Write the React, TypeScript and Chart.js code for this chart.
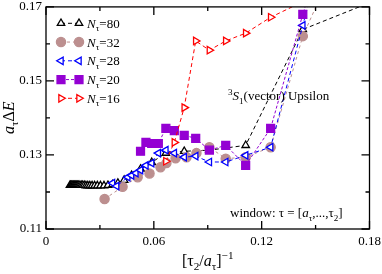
import React, { useEffect, useRef } from "react";
import { Chart, registerables } from "chart.js";
Chart.register(...registerables);

const FONT = "'Liberation Serif', 'Times New Roman', serif";

// x = [tau2/a_tau]^-1, y = a_tau * Delta E
const xN80 = [0.01333, 0.0137, 0.01408, 0.01449, 0.01493, 0.01538, 0.01587, 0.01639, 0.01695, 0.01754, 0.01818, 0.01887, 0.01961, 0.02041, 0.02128, 0.02222, 0.02326, 0.02439, 0.02564, 0.02703, 0.02857, 0.0303, 0.03226, 0.03448, 0.03704, 0.04, 0.04348, 0.04762, 0.05263, 0.05882, 0.06667, 0.07692, 0.09091, 0.11111, 0.14286, 0.2];
const yN80 = [0.1218, 0.1218, 0.1218, 0.1218, 0.1218, 0.1218, 0.1218, 0.1218, 0.1218, 0.1218, 0.1218, 0.1218, 0.1218, 0.1218, 0.1218, 0.1217, 0.1217, 0.1217, 0.1217, 0.1217, 0.1217, 0.1217, 0.1217, 0.1218, 0.122, 0.1224, 0.1232, 0.1245, 0.1262, 0.128, 0.1305, 0.131, 0.1313, 0.1326, 0.1639, 0.175];

const xN32 = [0.0326, 0.0426, 0.051, 0.0576, 0.0637, 0.067, 0.0721, 0.0782, 0.0837, 0.0909, 0.1, 0.1111, 0.125, 0.1429, 0.1667];
const yN32 = [0.1181, 0.1214, 0.124, 0.125, 0.1267, 0.1278, 0.1291, 0.1294, 0.1305, 0.1321, 0.129, 0.1294, 0.1321, 0.1621, 0.188];

const xN28 = [0.037, 0.0393, 0.0455, 0.0476, 0.05, 0.0526, 0.0556, 0.0588, 0.0625, 0.0667, 0.0714, 0.0769, 0.0833, 0.0909, 0.1, 0.1111, 0.125, 0.1429, 0.1667];
const yN28 = [0.1224, 0.1216, 0.124, 0.1245, 0.1251, 0.1259, 0.1272, 0.1278, 0.1305, 0.1313, 0.1305, 0.1294, 0.1297, 0.1281, 0.1281, 0.1299, 0.1321, 0.165, 0.21];

const xN20 = [0.0526, 0.0556, 0.0588, 0.0625, 0.0667, 0.0714, 0.0769, 0.0833, 0.0909, 0.1, 0.1111, 0.125, 0.1429, 0.1667];
const yN20 = [0.131, 0.1334, 0.1331, 0.1331, 0.1372, 0.1366, 0.1353, 0.1345, 0.1313, 0.1326, 0.1272, 0.1372, 0.168, 0.205];

const xN16 = [0.0667, 0.0714, 0.0769, 0.0833, 0.0909, 0.1, 0.1111, 0.125, 0.1429];
const yN16 = [0.1283, 0.1334, 0.1428, 0.1608, 0.1583, 0.1608, 0.1629, 0.1672, 0.1714];

const xMajor = [0, 0.06, 0.12, 0.18];
const xMinor = [0.03, 0.09, 0.15];
const yMajor = [0.11, 0.13, 0.15, 0.17];
const yMinor = [0.12, 0.14, 0.16];

const legendLabels = ["80", "32", "28", "20", "16"];

type Part = { t: string; it?: boolean; sub?: boolean; sup?: boolean };

function drawRich(ctx: CanvasRenderingContext2D, parts: Part[], x: number, y: number, size: number) {
  let cx = x;
  for (const p of parts) {
    const s = p.sub || p.sup ? size * 0.7 : size;
    ctx.font = `${p.it ? "italic " : ""}${s}px ${FONT}`;
    const dy = p.sub ? size * 0.28 : p.sup ? -size * 0.42 : 0;
    ctx.fillText(p.t, cx, y + dy);
    cx += ctx.measureText(p.t).width;
  }
  return cx - x;
}

function drawMarker(ctx: CanvasRenderingContext2D, style: string, x: number, y: number, r: number, rotDeg: number, stroke: string, fill: string, lw: number) {
  ctx.save();
  ctx.beginPath();
  ctx.setLineDash([]);
  if (style === "circle") {
    ctx.arc(x, y, r, 0, Math.PI * 2);
  } else if (style === "rect") {
    const s = r * Math.SQRT1_2;
    ctx.rect(x - s, y - s, 2 * s, 2 * s);
  } else {
    let rad = (rotDeg * Math.PI) / 180;
    ctx.moveTo(x + Math.sin(rad) * r, y - Math.cos(rad) * r);
    rad += (2 * Math.PI) / 3;
    ctx.lineTo(x + Math.sin(rad) * r, y - Math.cos(rad) * r);
    rad += (2 * Math.PI) / 3;
    ctx.lineTo(x + Math.sin(rad) * r, y - Math.cos(rad) * r);
    ctx.closePath();
  }
  ctx.fillStyle = fill;
  ctx.fill();
  ctx.lineWidth = lw;
  ctx.strokeStyle = stroke;
  ctx.stroke();
  ctx.restore();
}

const series = [
  { xs: xN80, ys: yN80, color: "#000000", fill: "#ffffff", style: "triangle", rot: 0, r: 4.3, dash: [4, 3], order: 5 },
  { xs: xN32, ys: yN32, color: "#bc8f8f", fill: "#bc8f8f", style: "circle", rot: 0, r: 4.6, dash: [3, 3], order: 4 },
  { xs: xN28, ys: yN28, color: "#0000ff", fill: "#ffffff", style: "triangle", rot: -90, r: 4.3, dash: [4, 3], order: 3 },
  { xs: xN20, ys: yN20, color: "#9400d3", fill: "#9400d3", style: "rect", rot: 0, r: 5.6, dash: [3, 2], order: 2 },
  { xs: xN16, ys: yN16, color: "#ff0000", fill: "#ffffff", style: "triangle", rot: 90, r: 4.3, dash: [4, 3], order: 1 },
];

const decorPlugin = {
  id: "decor",
  afterDraw(chart: any) {
    const ctx: CanvasRenderingContext2D = chart.ctx;
    const { left, right, top, bottom } = chart.chartArea;
    const xs = chart.scales.x;
    const ys = chart.scales.y;
    ctx.save();
    ctx.strokeStyle = "#000";
    ctx.lineWidth = 1.3;
    ctx.setLineDash([]);
    ctx.strokeRect(left, top, right - left, bottom - top);
    const tick = (vals: number[], len: number) => {
      for (const v of vals) {
        const px = xs.getPixelForValue(v);
        ctx.beginPath();
        ctx.moveTo(px, bottom);
        ctx.lineTo(px, bottom - len);
        ctx.moveTo(px, top);
        ctx.lineTo(px, top + len);
        ctx.stroke();
      }
    };
    const ytick = (vals: number[], len: number) => {
      for (const v of vals) {
        const py = ys.getPixelForValue(v);
        ctx.beginPath();
        ctx.moveTo(left, py);
        ctx.lineTo(left + len, py);
        ctx.moveTo(right, py);
        ctx.lineTo(right - len, py);
        ctx.stroke();
      }
    };
    tick(xMajor, 8);
    tick(xMinor, 4);
    ytick(yMajor, 8);
    ytick(yMinor, 4);

    // legend
    const rowY0 = 23.3;
    const rowStep = 18.75;
    series.forEach((s, i) => {
      const y = rowY0 + i * rowStep;
      ctx.save();
      ctx.strokeStyle = s.color;
      ctx.lineWidth = 1;
      ctx.setLineDash(s.dash);
      ctx.beginPath();
      ctx.moveTo(61, y);
      ctx.lineTo(79, y);
      ctx.stroke();
      ctx.restore();
      drawMarker(ctx, s.style, 61, y, s.r, s.rot, s.color, s.fill, 1.3);
      drawMarker(ctx, s.style, 79, y, s.r, s.rot, s.color, s.fill, 1.3);
      ctx.fillStyle = "#000";
      ctx.textBaseline = "alphabetic";
      drawRich(ctx, [{ t: "N", it: true }, { t: "τ", sub: true }, { t: "=" + legendLabels[i] }], 87, y + 4.5, 13);
    });

    ctx.fillStyle = "#000";
    ctx.textBaseline = "alphabetic";
    drawRich(ctx, [{ t: "3", sup: true }, { t: "S", it: true }, { t: "1", sub: true }, { t: "(vector) Upsilon" }], 228, 100, 13);
    drawRich(ctx, [{ t: "window: τ = [" }, { t: "a", it: true }, { t: "τ", sub: true }, { t: ",...,τ" }, { t: "2", sub: true }, { t: "]" }], 230, 217, 13);

    // x title
    drawRich(ctx, [{ t: "[τ" }, { t: "2", sub: true }, { t: "/" }, { t: "a", it: true }, { t: "τ", sub: true }, { t: "]" }, { t: "−1", sup: true }], 182, 266, 16);

    // y title
    ctx.save();
    ctx.translate(13.5, 134);
    ctx.rotate(-Math.PI / 2);
    drawRich(ctx, [{ t: "a", it: true }, { t: "τ", sub: true }, { t: "Δ" }, { t: "E", it: true }], 0, 0, 16);
    ctx.restore();
    ctx.restore();
  },
};

export default function App() {
  const ref = useRef<HTMLCanvasElement | null>(null);
  useEffect(() => {
    document.body.style.margin = "0";
    const canvas = ref.current!;
    const zeroPad = (s: any) => {
      s.paddingLeft = 0;
      s.paddingRight = 0;
      s.paddingTop = 0;
      s.paddingBottom = 0;
    };
    const chart = new Chart(canvas, {
      type: "line",
      data: {
        datasets: series.map((s) => ({
          data: s.xs.map((x, i) => ({ x, y: s.ys[i] })),
          borderColor: s.color,
          borderWidth: 1,
          borderDash: s.dash,
          pointStyle: s.style as any,
          pointRotation: s.rot,
          pointRadius: s.r,
          pointBorderWidth: 1.3,
          pointBorderColor: s.color,
          pointBackgroundColor: s.fill,
          pointHoverRadius: s.r,
          tension: 0,
          fill: false,
          order: s.order,
          clip: 0,
        })),
      },
      options: {
        responsive: false,
        maintainAspectRatio: false,
        animation: false,
        events: [],
        layout: { padding: { top: 5.5, right: 12.5, left: 0, bottom: 0 } },
        plugins: { legend: { display: false }, tooltip: { enabled: false } },
        scales: {
          x: {
            type: "linear",
            min: 0,
            max: 0.18,
            afterFit: (s: any) => {
              s.height = 45;
              zeroPad(s);
            },
            grid: { display: false, drawTicks: false },
            border: { display: false },
            ticks: {
              stepSize: 0.03,
              autoSkip: false,
              maxRotation: 0,
              padding: 5,
              color: "#000",
              font: { family: FONT, size: 13 },
              callback: (v: any) => {
                const n = Math.round(Number(v) * 100);
                if (n % 6 !== 0) return "";
                return n === 0 ? "0" : (n / 100).toFixed(2);
              },
            },
          },
          y: {
            type: "linear",
            min: 0.11,
            max: 0.17,
            afterFit: (s: any) => {
              s.width = 46;
              zeroPad(s);
            },
            grid: { display: false, drawTicks: false },
            border: { display: false },
            ticks: {
              stepSize: 0.01,
              autoSkip: false,
              padding: 4,
              color: "#000",
              font: { family: FONT, size: 13 },
              callback: (v: any) => {
                const n = Math.round(Number(v) * 100);
                if ((n - 11) % 2 !== 0) return "";
                return (n / 100).toFixed(2);
              },
            },
          },
        },
      },
      plugins: [decorPlugin],
    });
    return () => chart.destroy();
  }, []);
  return (
    <div style={{ width: 382, height: 274, background: "#fff" }}>
      <canvas ref={ref} width={382} height={274} />
    </div>
  );
}
